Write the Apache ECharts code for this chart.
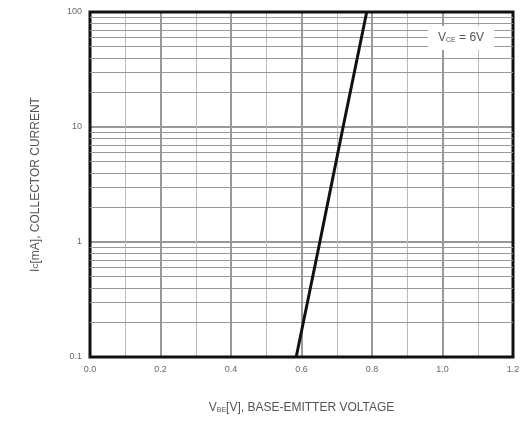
<!DOCTYPE html>
<html><head><meta charset="utf-8">
<script src="https://cdn.jsdelivr.net/npm/echarts@6/dist/echarts.min.js"></script>
<style>html,body{margin:0;padding:0;background:#fff}#c{width:525px;height:430px}</style>
</head><body><div id="c"></div>
<script>
const vbe = [0.585, 0.652, 0.718, 0.785];
const ic = [0.1, 1, 10, 100];
const xTicks = ['0.0','0.2','0.4','0.6','0.8','1.0','1.2'];
const yTicks = ['0.1','1','10','100'];
const minorY = [0.2,0.3,0.4,0.5,0.6,0.7,0.8,0.9,2,3,4,5,6,7,8,9,20,30,40,50,60,70,80,90];

const chart = echarts.init(document.getElementById('c'), null, {renderer:'canvas'});
chart.setOption({
  animation:false,
  grid:{left:90,right:12,top:12,bottom:73,show:true,borderColor:'#111',borderWidth:3,z:5},
  xAxis:{type:'value',min:0,max:1.2,interval:0.2,
    name:'{n|V}{s|BE}{n|[V], BASE-EMITTER VOLTAGE}',nameLocation:'middle',nameGap:44,
    nameTextStyle:{rich:{n:{fontSize:12,color:'#555',fontFamily:'Liberation Sans'},s:{fontSize:7,color:'#555',verticalAlign:'bottom',padding:[6,0,0,0]}}},
    axisLine:{show:false},axisTick:{show:false},
    axisLabel:{fontSize:9,color:'#666',margin:8,formatter:v=>{const s=v.toFixed(1);return xTicks.includes(s)?s:'';}},
    splitLine:{show:true,lineStyle:{color:'#999',width:2}},
    minorTick:{show:false,splitNumber:2},
    minorSplitLine:{show:true,lineStyle:{color:'#bbb',width:1}}
  },
  yAxis:{type:'log',min:0.1,max:100,logBase:10,
    name:'{n|I}{s|C}{n|[mA], COLLECTOR CURRENT}',nameLocation:'middle',nameGap:48,
    nameTextStyle:{rich:{n:{fontSize:12,color:'#555',fontFamily:'Liberation Sans'},s:{fontSize:7,color:'#555'}}},
    axisLine:{show:false},axisTick:{show:false},
    axisLabel:{fontSize:9,color:'#666',margin:8,formatter:v=>{const s=String(+v.toPrecision(3));return yTicks.includes(s)?s:'';}},
    splitLine:{show:true,lineStyle:{color:'#999',width:2}}
  },
  series:[{type:'line',data:vbe.map((v,i)=>[v,ic[i]]),symbol:'none',
    lineStyle:{color:'#111',width:3},z:10,
    markLine:{silent:true,symbol:'none',label:{show:false},
      lineStyle:{color:'#999',width:1,type:'solid'},
      data:minorY.map(y=>({yAxis:y}))}
  }],
  graphic:[{type:'text',left:428,top:26,z:20,
    style:{text:'{n|V}{s|CE}{n| = 6V}',rich:{n:{fontSize:12,fill:'#555',fontFamily:'Liberation Sans'},s:{fontSize:7,fill:'#555',padding:[5,0,0,0]}},
      backgroundColor:'#fff',padding:[6,10]}}]
});
</script></body></html>
